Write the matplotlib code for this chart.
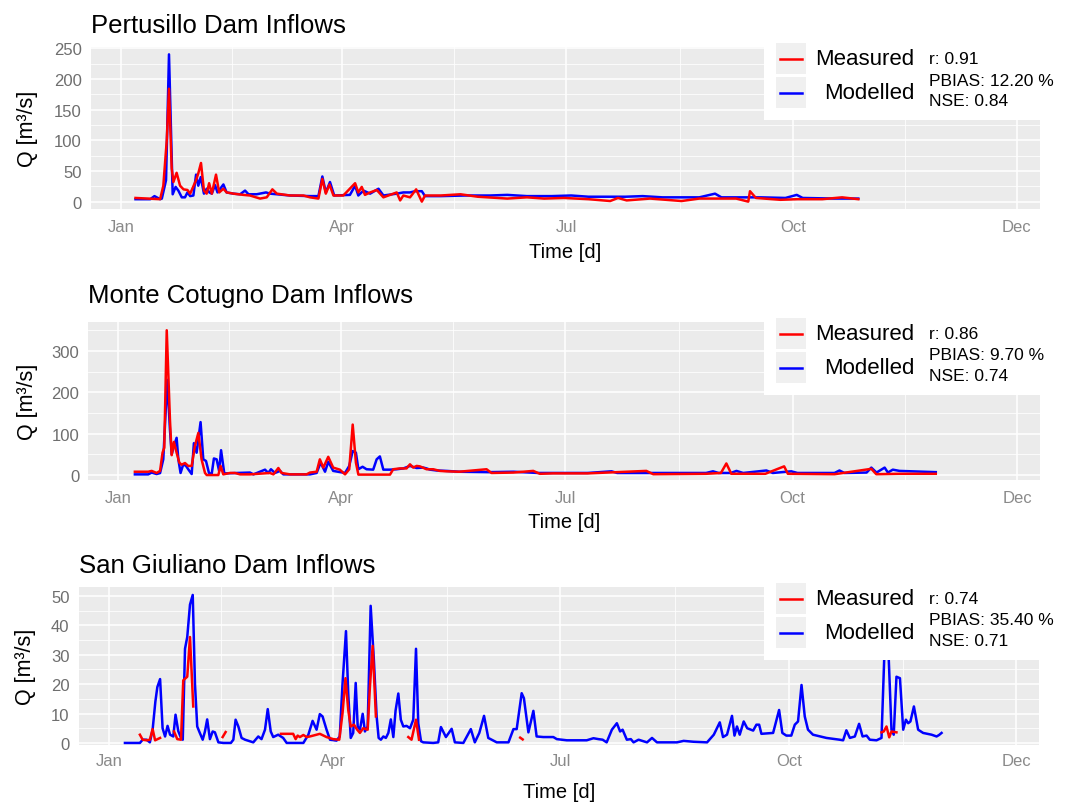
import numpy as np
import matplotlib
matplotlib.use('Agg')
import matplotlib.pyplot as plt
from matplotlib.patches import Rectangle
from matplotlib.lines import Line2D

plt.rcParams['font.family'] = ['Liberation Sans', 'DejaVu Sans']

W, H = 1069, 803
nan = np.nan

# day of year (0 = 1 Jan) for the month ticks
month_ticks = [0, 90, 181, 273, 364]
month_labels = ['Jan', 'Apr', 'Jul', 'Oct', 'Dec']
month_minor = [45, 135.5, 227, 318.5]

titles = ['Pertusillo Dam Inflows', 'Monte Cotugno Dam Inflows', 'San Giuliano Dam Inflows']
stats = [['r: 0.91', 'PBIAS: 12.20 %', 'NSE: 0.84'],
         ['r: 0.86', 'PBIAS: 9.70 %', 'NSE: 0.74'],
         ['r: 0.74', 'PBIAS: 35.40 %', 'NSE: 0.71']]

# Pertusillo (day, Q)
pert_mod = [(6, 4), (12, 4), (13.7, 9), (16, 4), (16.7, 5), (18.4, 35), (19.6, 240), (21.1, 12), (22.3, 24),
            (23.4, 18), (24.8, 7), (26.1, 7), (27.1, 15), (28.2, 9), (29.5, 10), (30.6, 44), (31.5, 26),
            (32.5, 40), (33.8, 13), (34.9, 21), (36, 15), (37, 13), (38.3, 27), (39.3, 15), (41.7, 28),
            (43, 15), (45.8, 13), (48.5, 12), (50.5, 18), (51.9, 12), (55.2, 12), (59, 15), (60.7, 13),
            (68.8, 10), (76.9, 9), (80.3, 9), (81.9, 41), (83.3, 15), (85, 32), (86.7, 10), (93.1, 11),
            (95.2, 26), (96.5, 10), (98.6, 18), (101.3, 13), (104.7, 21), (106.7, 10), (112.1, 13),
            (114.8, 15), (117.5, 15), (119.6, 17), (122.3, 17), (123.6, 9), (130, 9), (140, 10), (150, 10),
            (157, 11), (165, 9), (175, 9), (183, 10), (190, 8), (205, 8), (212, 9), (220, 7), (235, 7),
            (241.4, 13), (244, 7), (260, 7), (270, 6), (274.6, 11), (277, 6), (290, 5), (299.6, 5)]
pert_meas = [(6, 6), (16, 4), (17.3, 26), (18.7, 100), (19.6, 184), (20.7, 54), (21.4, 32), (22.7, 47),
             (24.1, 26), (25.5, 20), (27.1, 19), (28.2, 13), (30.6, 35), (31.5, 46), (32.6, 63), (33.8, 18),
             (34.9, 13), (35.9, 30), (37, 13), (38.7, 44), (40, 15), (41.7, 21), (43, 15), (45.8, 13),
             (49.8, 11), (52.5, 10), (56.6, 5), (59.3, 7), (61.6, 20), (63.4, 13), (68.8, 10), (74.2, 10),
             (76.9, 7), (80.3, 5), (81.9, 37), (83.3, 13), (84.8, 28), (86.4, 10), (90.4, 10), (95.2, 30),
             (96.5, 15), (97.9, 24), (99.2, 11), (101.3, 15), (104, 19), (106.7, 7), (112.1, 15), (113.5, 2),
             (114.8, 10), (117.5, 7), (120, 20), (122.3, 0), (123.6, 10), (130, 10), (138, 12), (145, 8),
             (157, 5), (165, 7), (172, 5), (180, 6), (190, 4), (198.8, 1), (202, 6), (205.5, 2), (215, 5),
             (227.8, 1), (235, 5), (250, 5), (254.9, 0), (255.6, 17), (258, 6), (268, 3), (275, 4), (285, 4),
             (293, 7), (299.6, 4)]

# Monte Cotugno
cot_mod = [(6.7, 1.6), (12.1, 1.6), (13.5, 6), (15.5, 2.4), (16.9, 4.8), (18.2, 38), (19.8, 230), (20.9, 110),
           (21.6, 50), (22.5, 70), (23.6, 90), (24.3, 38), (25.2, 5), (26.3, 26), (27.4, 22), (28.3, 14),
           (29.7, 2.4), (30.6, 77), (31.7, 54), (33.3, 128), (34.4, 38), (35.5, 34), (36.7, 5), (37.8, 2.4),
           (38.7, 40), (39.8, 38), (40.8, 10), (41.6, 60), (42.9, 4), (53.3, 6), (54.7, 1.6), (59.4, 13),
           (60.7, 5), (61.8, 14), (63.4, 5), (65.5, 10), (66.8, 1.6), (77.6, 1.6), (80.3, 5), (81.9, 30),
           (83.7, 8), (85, 32), (87, 10), (91.8, 5), (93.5, 22), (94.9, 58), (96.2, 54), (97.2, 14),
           (98.9, 20), (100.5, 14), (103.2, 13), (104.6, 38), (105.9, 45), (107.3, 13), (110, 13),
           (112.7, 14), (115.4, 16), (118.1, 22), (120.8, 17), (123.5, 18), (124.8, 16), (126.2, 13),
           (128.9, 11), (132.9, 10), (138, 8), (150, 7), (160, 8), (170, 5), (176, 5), (190, 5), (199.7, 9),
           (202, 5), (216, 5), (238, 5), (240.8, 9), (243, 5), (248, 5), (250.3, 10), (253, 5), (262.4, 11),
           (265, 5), (272.5, 9), (275, 5), (290, 5), (292, 11), (294, 5), (303, 6), (304.9, 18), (307, 6),
           (310.3, 18), (311.6, 6), (313.6, 13), (316.3, 10), (331, 7)]
cot_meas = [(6.7, 8), (12.1, 8), (13.5, 10), (15.5, 5), (16.9, 10), (17.9, 54), (18.6, 66), (19.6, 350),
            (20.9, 134), (21.6, 48), (22.5, 80), (23.6, 54), (24.7, 30), (25.6, 25), (27, 29), (28.3, 22),
            (29.7, 22), (31, 70), (32.4, 102), (33.7, 38), (35.1, 5), (35.8, 0), (40.5, 0), (41.4, 22),
            (42.5, 1.6), (45.2, 5), (47.2, 5), (49.3, 1.6), (53.3, 1.6), (61.4, 5), (62.8, 1.6), (64.8, 17),
            (66.1, 5), (69.5, 1.6), (76.2, 1.6), (77.6, 6), (80.3, 8), (81.6, 38), (83, 18), (85, 44),
            (87, 18), (89.7, 13), (91.8, 1.6), (93.5, 14), (94.9, 122), (96.2, 30), (97.2, 1), (110, 1),
            (111.3, 14), (114, 16), (116.7, 16), (118.1, 26), (119.4, 18), (120.8, 22), (122.1, 21),
            (124.8, 14), (127.5, 14), (130.2, 10), (132.9, 9), (138, 8), (149.1, 14), (151.1, 5), (160, 6),
            (168, 10), (170.7, 3), (176, 4), (190, 4), (213.8, 10), (216.6, 2), (238, 3), (244, 5),
            (246.2, 28), (248.2, 3), (262, 3), (269.6, 21), (271.1, 3), (290, 2), (304.9, 15), (306.9, 2),
            (316, 3), (331, 3)]

# San Giuliano (measured has gaps)
giu_mod = [(6.4, 0), (12.4, 0), (13.5, 1.1), (15.1, 1.1), (16.4, 0.2), (17.5, 4.5), (18.6, 14), (19.4, 19),
           (20.5, 21.7), (21.5, 5), (22.5, 2.2), (23.5, 5.8), (24.5, 2.8), (25.8, 2.2), (26.7, 9.6), (27.8, 4),
           (28.9, 1.7), (29.6, 1.1), (30.5, 32), (31.4, 36), (32.5, 47), (33.6, 50.3), (34.5, 20), (35.4, 5.6),
           (36.2, 3.9), (37.6, 1.1), (38.5, 3.9), (39.4, 8), (40.5, 1.3), (41.6, 3.9), (42.5, 3.6), (43.9, 0.2),
           (45.9, 0), (48.9, 0), (49.9, 1.1), (50.8, 7.9), (51.9, 5.6), (53.2, 1.7), (54.6, 1.1), (57.9, 0.2),
           (59.9, 2.2), (61.2, 1.3), (62.6, 4.5), (63.7, 11.5), (64.9, 3.9), (65.9, 2), (67.9, 2.8), (69.9, 1.7),
           (71.3, 0), (78, 0), (80, 2.8), (81.7, 7.5), (83.3, 4.5), (84.6, 9.8), (85.7, 9), (87.3, 4.5),
           (88.7, 1.1), (91.3, 0.8), (92.6, 2.2), (93.7, 20), (95.1, 38), (96, 16.9), (97, 1.7), (98, 3.4),
           (99, 20.4), (99.8, 5.6), (100.7, 4.5), (101.8, 9.9), (102.7, 3.9), (103.8, 5.6), (105, 46.6),
           (106.3, 28), (107.4, 9), (108.2, 1.7), (109.1, 1.1), (110.1, 2.2), (111.1, 1.7), (112.1, 3.4),
           (113.1, 8), (114.1, 2), (115, 11), (116.1, 16.8), (117.1, 7.9), (118.1, 5.6), (119.4, 5.8),
           (120.8, 5), (122.1, 7.9), (123.2, 32), (124.1, 6.7), (125.2, 0.6), (126.1, 0.2), (130.1, 0),
           (132.1, 0.2), (133.2, 5.4), (135.2, 2), (137.5, 4.8), (138.8, 0.2), (142.2, 0), (145.2, 4.7),
           (146.8, 0.2), (148.6, 3.4), (150.5, 9.2), (152.2, 1.7), (155.6, 0.2), (160.3, 0.2), (162.3, 4.7),
           (163.6, 4.7), (165.6, 16.9), (166.5, 15.2), (168.3, 3.6), (170.3, 10.9), (171.6, 2.2), (174.3, 2),
           (178.3, 2), (179.7, 1.3), (183.7, 0.9), (191.7, 0.9), (194.4, 1.6), (196.4, 1.3), (198.1, 1.1),
           (199.7, 0.2), (201.8, 4.5), (203.8, 6.7), (205.1, 3.9), (206.1, 4.5), (207.8, 1.1), (209.4, 1.3),
           (210.5, 0.2), (212.5, 1.1), (215.9, 0.2), (217.9, 1.7), (219.9, 0.2), (227.9, 0.2), (230.6, 0.7),
           (234.6, 0.4), (240, 0.2), (242.7, 2.8), (245.1, 7), (246.4, 2), (248, 2.8), (250, 9.2), (251, 2.5),
           (252, 5.6), (253.1, 2.8), (254.7, 7.3), (256.1, 5), (258.5, 4.2), (259.8, 6.2), (260.9, 6.2),
           (261.8, 3.1), (266.5, 3.4), (268.9, 11.2), (270.2, 3.4), (271.8, 2.5), (273.8, 2.5), (275.2, 6.2),
           (276.5, 7.3), (277.9, 19.7), (279.2, 9), (280.5, 4.5), (282.5, 2.8), (287.9, 1.7), (293.2, 1.1),
           (294.6, 0.9), (295.9, 4.3), (297.3, 1.7), (299.3, 2.2), (301, 6.5), (302.4, 2.2), (304, 2.5),
           (305.3, 1.1), (308, 0.9), (310, 1.7), (311.3, 34), (312.7, 33), (314, 4.5), (314.9, 2.8),
           (316, 22.5), (317.4, 22), (318.7, 4.5), (319.8, 7.9), (320.7, 6.7), (321.6, 7.3), (323, 12.4),
           (324.7, 4.5), (326.7, 3.4), (330.1, 2.8), (332.1, 2.2), (333.1, 2.7), (334.1, 3.4)]
giu_meas = [(12.4, 2.8), (13.5, 1.1), (15.1, 0.9), (16.4, 1.1), (17.5, 4.7), (18.5, 0.9), (20.5, 1.7), (21, nan),
            (26.1, 3.9), (27.4, 1.3), (28.9, 1.1), (29.8, 21.3), (31.4, 22.5), (32.5, 36), (33.8, 12.4), (34, nan),
            (45.6, 2), (46.8, 3.7), (47, nan),
            (69, 3.1), (73.9, 3.1), (74.9, 1.3), (75.7, 2.5), (76.6, 2), (78, 2.7), (79.3, 2), (80.6, 2.2),
            (83.3, 2.8), (84.6, 3.1), (87.3, 2), (90, 1.3), (92.4, 1.1), (93.7, 10), (94.9, 22), (96, 11.2),
            (97, 5.6), (98.3, 6.2), (99.6, 4.5), (100.7, 3.4), (102, 5), (103.8, 4.5), (104.7, 19), (105.8, 33),
            (107.1, 9), (108, nan),
            (120.1, 2), (121.4, 1.1), (123.2, 7.9), (124.4, 1.1), (125, nan),
            (165, 1.8), (166, 1.2), (167, nan),
            (310, 3.6), (310.9, 3.9), (312, 5.6), (313.1, 1.9), (314, 3.9), (316, 3.6)]

series = [(pert_mod, pert_meas), (cot_mod, cot_meas), (giu_mod, giu_meas)]

# panel geometry in pixels: left, top, right, bottom
boxes = [(90.7, 48, 1039.5, 210), (88.2, 323, 1040, 481), (78.6, 588, 1039, 746)]
ylims = [(-12, 252), (-12, 370), (-0.7, 53)]
ymajor = [np.arange(0, 251, 50), np.arange(0, 301, 100), np.arange(0, 51, 10)]
yminor = [np.arange(25, 251, 50), np.arange(50, 351, 100), np.arange(5, 50, 10)]
title_y = [26, 296, 566]
xlab_y = [253, 523, 793]
leg_top = [43, 318, 583]
xpad = [7, 7, 6]

fig = plt.figure(figsize=(W / 100, H / 100), dpi=100)


def fx(x):
    return x / W


def fy(y):
    return 1 - y / H


for i in range(3):
    l, t, r, b = boxes[i]
    ax = fig.add_axes([fx(l), fy(b), (r - l) / W, (b - t) / H])
    ax.set_facecolor('#EBEBEB')
    for s in ax.spines.values():
        s.set_visible(False)
    ax.set_xlim(-12.2, 373.2)
    ax.set_ylim(*ylims[i])
    ax.set_xticks(month_ticks)
    ax.set_xticklabels(month_labels)
    ax.set_xticks(month_minor, minor=True)
    ax.set_yticks(ymajor[i])
    ax.set_yticks(yminor[i], minor=True)
    ax.grid(which='major', color='white', lw=1.1)
    ax.grid(which='minor', color='white', lw=0.55)
    ax.set_axisbelow(True)
    ax.tick_params(which='both', length=0)
    ax.tick_params(axis='y', labelsize=12, labelcolor='#6e6e6e', pad=6.5)
    ax.tick_params(axis='x', labelsize=12, labelcolor='#8a8a8a', pad=xpad[i])

    mod, meas = series[i]
    ax.plot([p[0] for p in mod], [p[1] for p in mod], color='#0000FF', lw=1.8)
    ax.plot([p[0] for p in meas], [p[1] for p in meas], color='#FF0000', lw=1.8)

    fig.text(fx(l), fy(title_y[i]), titles[i], fontsize=18.5, ha='left', va='center')
    fig.text(fx((l + r) / 2), fy(xlab_y[i]), 'Time [d]', fontsize=14.5, ha='center', va='center')
    fig.text(fx(27 if i < 2 else 25), fy((t + b) / 2), 'Q [m³/s]', fontsize=15.5,
             rotation=90, ha='center', va='center')

    # legend block drawn over the panel
    T = leg_top[i]
    fig.add_artist(Rectangle((fx(764), fy(T + 78)), (W - 764) / W, 78 / H,
                             transform=fig.transFigure, facecolor='white', edgecolor='none', zorder=5))
    for k, (lab, col) in enumerate([('Measured', '#FF0000'), ('Modelled', '#0000FF')]):
        top = T + 1 + k * 34
        fig.add_artist(Rectangle((fx(776), fy(top + 31)), 30 / W, 31 / H, transform=fig.transFigure,
                                 facecolor='#F0F0F0', edgecolor='none', zorder=6))
        yc = top + 15.5
        fig.add_artist(Line2D([fx(780), fx(802)], [fy(yc), fy(yc)], transform=fig.transFigure,
                              color=col, lw=1.8, zorder=7))
        fig.text(fx(914), fy(yc), lab, fontsize=16, ha='right', va='center', zorder=8)
    for k, line in enumerate(stats[i]):
        fig.text(fx(929), fy(T + 17 + 21 * k), line, fontsize=12.5, ha='left', va='center', zorder=8)

fig.savefig('out.png', dpi=100)
